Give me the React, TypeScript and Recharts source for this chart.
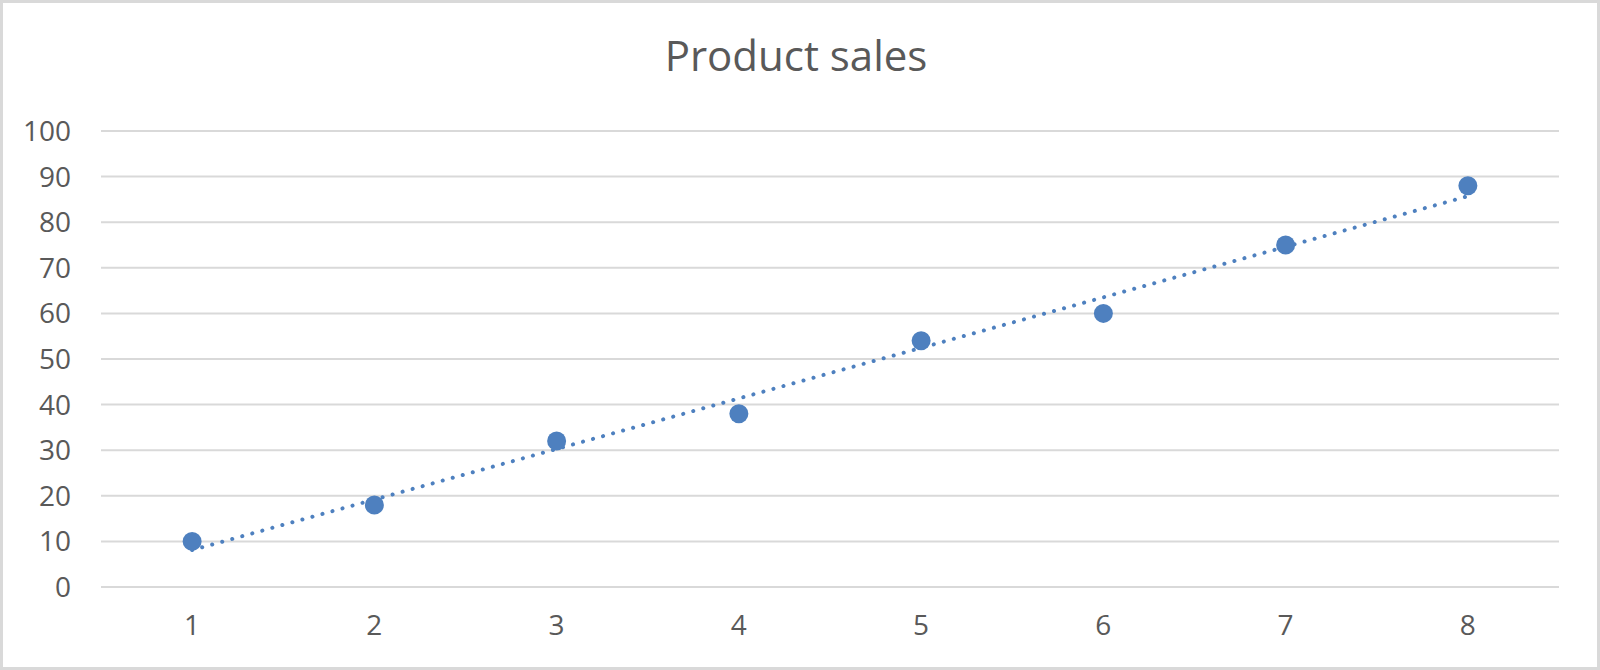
import { ComposedChart, Line, XAxis, YAxis, CartesianGrid } from "recharts";

const products = [1, 2, 3, 4, 5, 6, 7, 8];
const sales = [10, 18, 32, 38, 54, 60, 75, 88];
// linear trendline at the first and last product
const trend = [8.1, null, null, null, null, null, null, 85.7];
const yTicks = [0, 10, 20, 30, 40, 50, 60, 70, 80, 90, 100];

const data = products.map((x, i) => ({ x, sales: sales[i], trend: trend[i] }));

const BLUE = "#4E80BF";
const GRID = "#d9d9d9";
const TEXT = "#595959";
const FONT = "'Open Sans', sans-serif";

export default function App() {
  return (
    <div style={{ position: "absolute", left: 0, top: 0, width: 1600, height: 670, background: "#fff", fontFamily: FONT }}>
      <div
        style={{
          position: "absolute",
          left: 0,
          top: 26,
          width: 1592,
          textAlign: "center",
          fontSize: 42,
          color: TEXT,
          lineHeight: "58px",
        }}
      >
        Product sales
      </div>
      <ComposedChart width={1600} height={670} data={data} margin={{ top: 131, right: 41, bottom: 0, left: 0 }}>
        <CartesianGrid vertical={false} stroke={GRID} strokeWidth={2} />
        <XAxis
          dataKey="x"
          type="number"
          domain={[0.5, 8.5]}
          ticks={products}
          axisLine={false}
          tickLine={false}
          height={83}
          tickMargin={22}
          tick={{ fontSize: 28, fill: TEXT, fontFamily: FONT }}
        />
        <YAxis
          domain={[0, 100]}
          ticks={yTicks}
          axisLine={false}
          tickLine={false}
          width={101}
          tickMargin={24}
          tick={{ fontSize: 28, fill: TEXT, fontFamily: FONT }}
        />
        <Line
          dataKey="trend"
          connectNulls
          stroke={BLUE}
          strokeWidth={4}
          strokeDasharray="0.1 10.3"
          strokeLinecap="round"
          dot={false}
          activeDot={false}
          isAnimationActive={false}
        />
        <Line
          dataKey="sales"
          stroke="none"
          dot={{ r: 9.5, fill: BLUE, stroke: "none" }}
          activeDot={false}
          isAnimationActive={false}
        />
      </ComposedChart>
      <div
        style={{
          position: "absolute",
          left: 0,
          top: 0,
          width: 1600,
          height: 670,
          boxSizing: "border-box",
          border: `3px solid ${GRID}`,
          pointerEvents: "none",
        }}
      />
    </div>
  );
}
